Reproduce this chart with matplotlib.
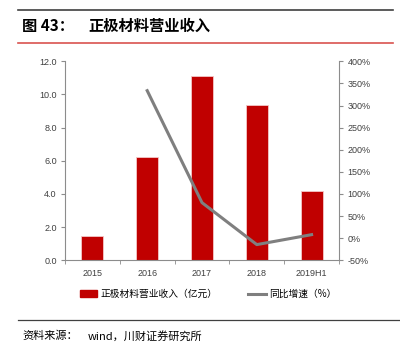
import matplotlib.pyplot as plt
from matplotlib.lines import Line2D
from matplotlib.patches import Patch
import numpy as np

years = ["2015", "2016", "2017", "2018", "2019H1"]
revenue = [1.47, 6.21, 11.14, 9.35, 4.16]          # 亿元
growth_years = ["2016", "2017", "2018", "2019H1"]
growth = [333.6, 80.4, -14.5, 8.0]                 # %

CJK = ["Noto Sans CJK SC", "DejaVu Sans"]
NUM = ["Liberation Sans", "DejaVu Sans"]
RED = "#c00000"
GREY = "#7f7f7f"
AXC = "#8c8c8c"


def main():
    fig = plt.figure(figsize=(4.0, 3.58), dpi=100)

    # header / footer rules
    fig.add_artist(Line2D([18 / 400, 393 / 400], [1 - 10 / 358] * 2,
                          color="#404040", lw=1.2))
    fig.add_artist(Line2D([18 / 400, 393 / 400], [1 - 43 / 358] * 2,
                          color="#d9534f", lw=1.2))
    fig.add_artist(Line2D([18 / 400, 400 / 400], [1 - 320 / 358] * 2,
                          color="#404040", lw=0.9))

    fig.text(22 / 400, 1 - 26 / 358, "图 43：", family=CJK, fontsize=11,
             fontweight="bold", va="center", ha="left")
    fig.text(88 / 400, 1 - 26 / 358, "正极材料营业收入", family=CJK,
             fontsize=11, fontweight="bold", va="center", ha="left")
    fig.text(22 / 400, 1 - 336 / 358, "资料来源：", family=CJK, fontsize=8,
             style="italic", va="center", ha="left")
    fig.text(88 / 400, 1 - 336 / 358, "wind，川财证券研究所", family=CJK,
             fontsize=8, va="center", ha="left")

    ax = fig.add_axes([65 / 400, 1 - 260.3 / 358, 274 / 400, 199 / 358])
    x = np.arange(len(years))
    ax.bar(x, revenue, width=0.4, color=RED, edgecolor="#f4c7c7", lw=0.6,
           zorder=2)
    ax.set_xlim(-0.5, len(years) - 0.5)
    ax.set_ylim(0, 12)
    ax.set_yticks(np.arange(0, 12.1, 2))
    ax.set_yticklabels(["%.1f" % v for v in np.arange(0, 12.1, 2)])
    ax.set_xticks(x)
    ax.set_xticklabels(years)
    ax.set_xticks(np.arange(-0.5, len(years)), minor=True)
    ax.tick_params(axis="x", which="major", length=0, pad=6)
    ax.tick_params(axis="x", which="minor", length=3, color=AXC)
    ax.tick_params(axis="y", length=3, color=AXC, pad=3)
    for lab in ax.get_xticklabels() + ax.get_yticklabels():
        lab.set_family(NUM)
        lab.set_fontsize(6.5)
        lab.set_color("#404040")
    for s in ["top", "right"]:
        ax.spines[s].set_visible(False)
    for s in ["left", "bottom"]:
        ax.spines[s].set_color(AXC)
        ax.spines[s].set_linewidth(0.8)

    ax2 = ax.twinx()
    gx = [years.index(y) for y in growth_years]
    ax2.plot(gx, growth, color=GREY, lw=2.2, zorder=3)
    ax2.set_ylim(-50, 400)
    ax2.set_yticks(np.arange(-50, 401, 50))
    ax2.set_yticklabels(["%d%%" % v for v in np.arange(-50, 401, 50)])
    ax2.tick_params(axis="y", length=3, color=AXC, pad=3)
    for lab in ax2.get_yticklabels():
        lab.set_family(NUM)
        lab.set_fontsize(6.5)
        lab.set_color("#404040")
    for s in ["top", "left", "bottom"]:
        ax2.spines[s].set_visible(False)
    ax2.spines["right"].set_color(AXC)
    ax2.spines["right"].set_linewidth(0.8)

    handles = [Patch(color=RED), Line2D([], [], color=GREY, lw=2.2)]
    labels = ["正极材料营业收入（亿元）", "同比增速（%）"]
    fig.legend(handles, labels, loc="center", ncol=2, frameon=False,
               bbox_to_anchor=(208 / 400, 1 - 294 / 358),
               prop={"family": CJK, "size": 7}, handlelength=1.8,
               handleheight=0.6, handletextpad=0.3, columnspacing=3.2)

    fig.savefig("out.png", dpi=100)


if __name__ == "__main__":
    main()
